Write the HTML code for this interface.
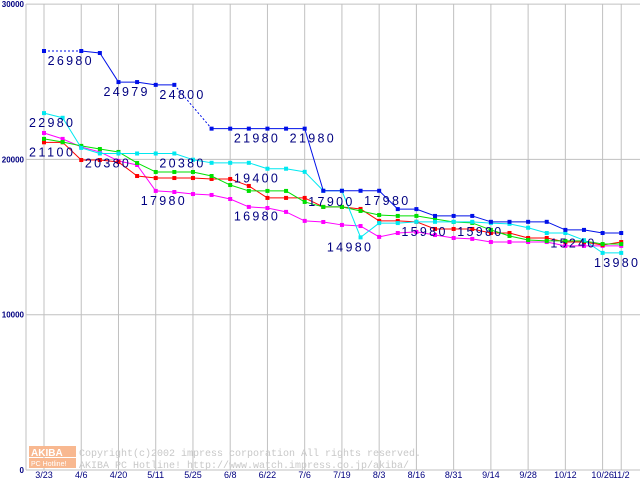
<!DOCTYPE html>
<html><head><meta charset="utf-8"><style>
body{margin:0;background:#fff;}
svg{display:block;font-family:"Liberation Sans",sans-serif;}
</style></head><body>
<svg id="chart" width="640" height="480"></svg>
<script>
const categories=["3/23","","4/6","","4/20","","5/11","","5/25","","6/8","","6/22","","7/6","","7/19","","8/3","","8/16","","8/31","","9/14","","9/28","","10/12","","10/26","11/2"];
const yTicks=[0,10000,20000,30000];
const blueVals=[26980,null,26980,26850,24979,24979,24800,24800,null,21980,21980,21980,21980,21980,21980,17980,17980,17980,17980,16800,16800,16360,16360,16360,15980,15980,15980,15980,15460,15460,15260,15260];
const cyanVals=[22980,22680,20740,20380,20380,20380,20380,20380,19980,19780,19780,19780,19400,19400,19200,17980,17980,14980,15900,15900,15980,15980,15980,15980,15900,15850,15600,15260,15260,14800,13980,13980];
const greenVals=[21320,21120,20870,20670,20480,19770,19190,19190,19190,18930,18350,17970,17970,17970,17260,16940,16940,16680,16420,16360,16360,16160,15970,15910,15460,15070,14810,14750,14750,14750,14550,14550];
const redVals=[21100,21100,19960,19960,19830,18930,18800,18800,18800,18740,18740,18290,17520,17520,17520,16940,16940,16810,16040,16040,15980,15520,15520,15520,15260,15260,14940,14940,14680,14680,14490,14680];
const magentaVals=[21700,21320,20800,20480,19900,19640,17970,17900,17770,17710,17450,16940,16870,16620,16040,15970,15780,15710,15010,15260,15330,15130,14940,14880,14680,14680,14680,14680,14430,14430,14430,14430];
const annotations=[[1,26980,"26980"],[4,24979,"24979"],[7,24800,"24800"],[0,22980,"22980"],[0,21100,"21100"],[3,20380,"20380"],[7,20380,"20380"],[6,17980,"17980"],[11,19400,"19400"],[11,16980,"16980"],[11,21980,"21980"],[14,21980,"21980"],[15,17900,"17900"],[16,14980,"14980"],[18,17980,"17980"],[20,15980,"15980"],[23,15980,"15980"],[28,15240,"15240"],[31,13980,"13980"]];
const NS="http://www.w3.org/2000/svg";
const svg=document.getElementById('chart');
function x(i){return 44+18.62*i;}
function y(v){return 470-v*0.01553;}
function mk(t,a,p){const e=document.createElementNS(NS,t);for(const k in a)e.setAttribute(k,a[k]);(p||svg).appendChild(e);return e;}
yTicks.forEach(v=>{
  const l=mk('line',{x1:26,x2:640,y1:y(v),y2:y(v),stroke:'#c0c0c0','stroke-width':1});
  
  
  const t=mk('text',{x:24,y:y(v)+3,'text-anchor':'end','font-size':8,'font-weight':'bold',fill:'#000080'});
  t.textContent=v;
  
  
});
const ax=mk('line',{x1:26,x2:26,y1:4,y2:470,stroke:'#c0c0c0'});


categories.forEach((c,i)=>{
  if(!c)return;
  const l=mk('line',{x1:x(i),x2:x(i),y1:4,y2:470,stroke:'#c0c0c0'});
  
  
  const t=mk('text',{x:x(i),y:478,'text-anchor':'middle','font-size':9,fill:'#000080'});
  t.textContent=c;
  
  
});
const wm=mk('g',{});


mk('rect',{x:29,y:446,width:47,height:11,fill:'#f8b890'},wm);
mk('rect',{x:29,y:458,width:47,height:10,fill:'#f8b890'},wm);
const w1=mk('text',{x:31,y:456,'font-size':10,fill:'#fff','font-weight':'bold'},wm);w1.textContent='AKIBA';
const w2=mk('text',{x:31,y:466,'font-size':7,fill:'#fff'},wm);w2.textContent='PC Hotline!';
const w3=mk('text',{x:79,y:456,'font-size':10,fill:'#c8c8c8','font-family':'Liberation Mono'},wm);w3.textContent='Copyright(c)2002 impress corporation All rights reserved.';
const w4=mk('text',{x:79,y:468,'font-size':10,fill:'#c8c8c8','font-family':'Liberation Mono'},wm);w4.textContent='AKIBA PC Hotline!  http://www.watch.impress.co.jp/akiba/';
function series(vals,color,name){
  const g=mk('g',{});
  
  
  let prev=-1;
  vals.forEach((v,i)=>{
    if(v==null)return;
    if(prev>=0){
      const l=mk('line',{x1:x(prev),y1:y(vals[prev]),x2:x(i),y2:y(v),stroke:color,'stroke-width':1},g);
      if(i-prev>1)l.setAttribute('stroke-dasharray','2,2');
    }
    prev=i;
  });
  vals.forEach((v,i)=>{
    if(v==null)return;
    const r=mk('rect',{x:x(i)-2,y:y(v)-2,width:4,height:4,fill:color},g);
    
    
  });
}
series(magentaVals,'#ff00ff','series-magenta');
series(redVals,'#ff0000','series-red');
series(greenVals,'#00e000','series-green');
series(cyanVals,'#00e8f0','series-cyan');
series(blueVals,'#0010e8','series-blue');
annotations.forEach(a=>{
  const cx=Math.min(x(a[0])+7,616);
  const t=mk('text',{x:cx,y:y(a[1])+14,'text-anchor':'middle','font-size':12.5,textLength:44,lengthAdjust:'spacing',fill:'#000080'});
  t.textContent=a[2];
  
  
});
</script>
</body></html>
